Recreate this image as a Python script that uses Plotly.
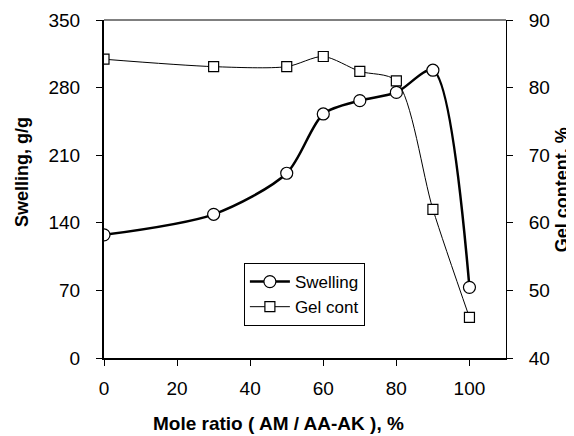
import plotly.graph_objects as go

ratio = [0, 30, 50, 60, 70, 80, 90, 100]
swelling = [127.5, 148.8, 191.3, 252.7, 266.5, 275.0, 298.0, 73.2]
gel_content = [84.2, 83.1, 83.1, 84.6, 82.4, 81.0, 62.0, 46.0]

x_ticks = [0, 20, 40, 60, 80, 100]
y1_ticks = [0, 70, 140, 210, 280, 350]
y2_ticks = [40, 50, 60, 70, 80, 90]

x_title = "Mole ratio ( AM / AA-AK ), %"
y1_title = "Swelling, g/g"
y2_title = "Gel content, %"

FONT = "Liberation Sans, Arial, sans-serif"

fig = go.Figure()
fig.add_trace(go.Scatter(
    x=ratio, y=swelling, name="Swelling", mode="lines+markers",
    legendgroup="a",
    line=dict(color="black", width=2.5, shape="spline", smoothing=0.8),
    marker=dict(symbol="circle", size=12, color="white",
                line=dict(color="black", width=1.2)),
))
fig.add_trace(go.Scatter(
    x=ratio, y=gel_content, name="Gel cont", mode="lines+markers", yaxis="y2",
    legendgroup="b",
    line=dict(color="black", width=1, shape="spline", smoothing=0.8),
    marker=dict(symbol="square", size=10, color="white",
                line=dict(color="black", width=1.2)),
))

axis_common = dict(showgrid=False, zeroline=False, showline=True, linecolor="black",
                   ticks="outside", ticklen=6, tickcolor="black", automargin=False,
                   tickfont=dict(size=19, family=FONT))

# page body has an 8px margin, so the figure is sized to fit the 574x436 window
fig.update_layout(
    width=566, height=428,
    margin=dict(l=96, r=68, t=12, b=78),
    paper_bgcolor="white", plot_bgcolor="white",
    font=dict(family=FONT, color="black", size=17),
    showlegend=True,
    legend=dict(
        x=0.348, y=0.281, xanchor="left", yanchor="top",
        bgcolor="white", bordercolor="black", borderwidth=1,
        font=dict(size=17, family=FONT), tracegroupgap=0, itemwidth=40,
    ),
    xaxis=dict(range=[0, 110], tickvals=x_ticks, ticktext=[str(v) for v in x_ticks],
               linewidth=2, ticklabelstandoff=6, **axis_common),
    yaxis=dict(range=[0, 350], tickvals=y1_ticks, ticktext=[str(v) for v in y1_ticks],
               linewidth=2, ticklabelstandoff=12, **axis_common),
    yaxis2=dict(range=[40, 90], tickvals=y2_ticks, ticktext=[str(v) for v in y2_ticks],
                overlaying="y", side="right", linewidth=1, ticklabelstandoff=12,
                **axis_common),
)
fig.add_shape(type="line", xref="paper", yref="paper", x0=0, x1=1, y0=1, y1=1,
              line=dict(color="black", width=1))

fig.add_annotation(text="<b>" + x_title + "</b>", xref="paper", yref="paper",
                   x=0.433, y=-0.195, xanchor="center", yanchor="middle",
                   showarrow=False, font=dict(size=19, family=FONT))
fig.add_annotation(text="<b>" + y1_title + "</b>", xref="paper", yref="paper",
                   x=-0.204, y=0.550, xanchor="center", yanchor="middle",
                   textangle=-90, showarrow=False, font=dict(size=18, family=FONT))
fig.add_annotation(text="<b>" + y2_title + "</b>", xref="paper", yref="paper",
                   x=1.14, y=0.497, xanchor="center", yanchor="middle",
                   textangle=-90, showarrow=False, font=dict(size=18, family=FONT))

fig.write_html("out.html")
